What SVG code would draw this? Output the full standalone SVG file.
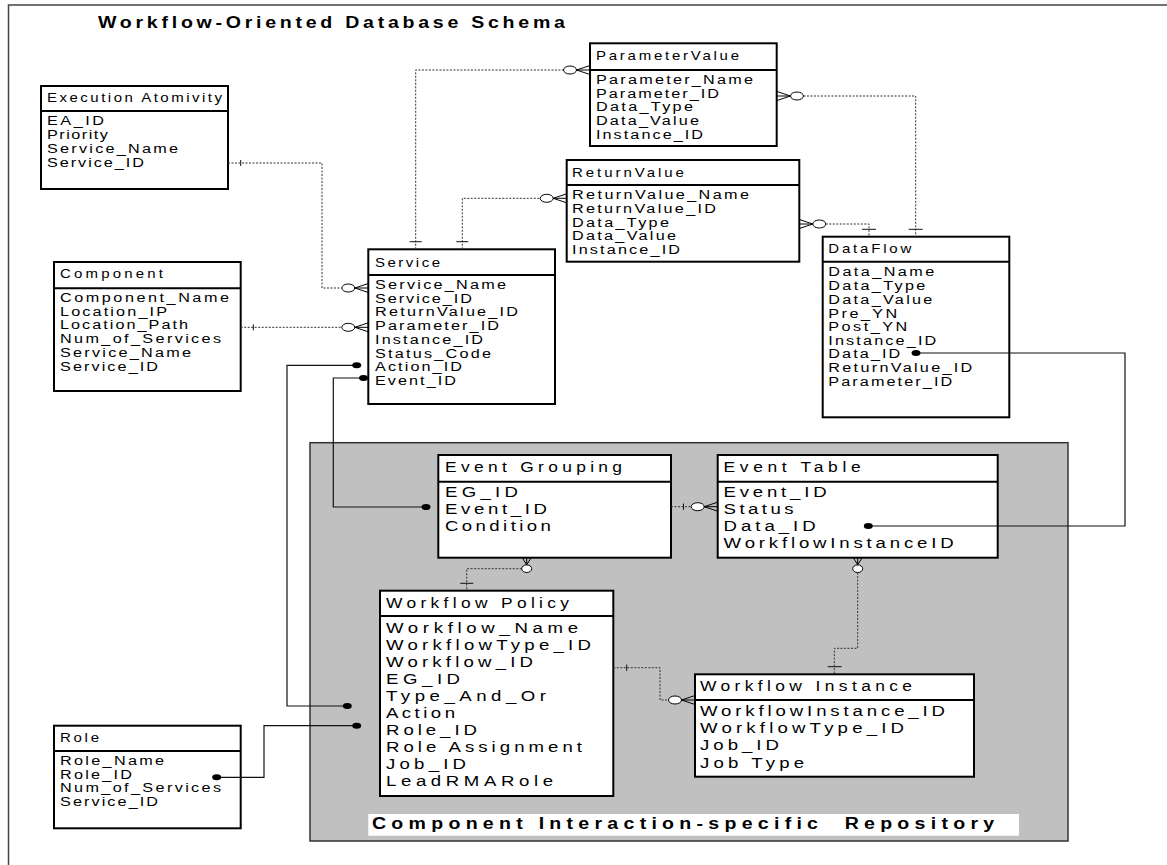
<svg xmlns="http://www.w3.org/2000/svg" xmlns:xlink="http://www.w3.org/1999/xlink" width="1167" height="865" viewBox="0 0 1167 865">
  <style>
    text { font-family: "Liberation Sans", Arial, Helvetica, sans-serif; fill: #000; }
    .title { font-size: 17px; font-weight: bold; }
    .hs { font-size: 12.5px; }
    .as { font-size: 13.5px; }
    .hl { font-size: 14.5px; }
    .al { font-size: 15.5px; }
    .box { fill: #fff; stroke: #000; stroke-width: 2; }
    .div { stroke: #000; stroke-width: 2; }
    .rel { fill: none; stroke: #333; stroke-width: 1; stroke-dasharray: 2 1.5; }
    .link { fill: none; stroke: #111; stroke-width: 1.2; }
    .tick { stroke: #111; stroke-width: 1; }
    .circ { fill: #fff; stroke: #000; stroke-width: 1; }
    .foot { fill: none; stroke: #000; stroke-width: 1; }
    .dot { fill: #000; }
  </style>
  <defs>
    <!-- zero-or-many end, entering an entity edge at the origin along +x -->
    <g id="zm">
      <ellipse class="circ" cx="-20" cy="0" rx="6.5" ry="4"/>
      <path class="foot" d="M-13.5,0 L0,-4.5 M-13.5,0 L0,0 M-13.5,0 L0,4.5"/>
    </g>
    <!-- compact zero-or-many end, hanging below an entity bottom edge -->
    <g id="zmUp">
      <ellipse class="circ" cx="0" cy="11" rx="5" ry="3.8"/>
      <path class="foot" d="M0,7 L-4.5,0 M0,7 L0,0 M0,7 L4.5,0"/>
    </g>
    <ellipse id="dot" class="dot" cx="0" cy="0" rx="4.5" ry="3"/>
  </defs>

  <rect width="1167" height="865" fill="#fff"/>
  <path d="M8.5,865 V5 H1167" fill="none" stroke="#444" stroke-width="1.5"/>
  <g transform="matrix(1.15,0,0,1,98,0)">
    <text class="title" x="0" y="28" textLength="406">Workflow-Oriented Database Schema</text>
  </g>

  <!-- repository area -->
  <g id="repository">
    <rect x="310" y="442.7" width="758" height="398.3" fill="#c0c0c0" stroke="#333" stroke-width="1.5"/>
    <rect x="368.3" y="814" width="650.7" height="21.7" fill="#fff"/>
    <g transform="matrix(1.15,0,0,1,372,0)">
      <text class="title" x="0" y="829.5" textLength="541" xml:space="preserve">Component Interaction-specific  Repository</text>
    </g>
  </g>

  <g id="execution-atomivity">
    <rect class="box" x="41" y="86" width="187" height="103"/>
    <line class="div" x1="41" y1="111" x2="228" y2="111"/>
    <g transform="matrix(1.2,0,0,1,47,0)">
      <text class="hs" x="0" y="102" textLength="145.8">Execution Atomivity</text>
      <text class="as" x="0" y="125.5" textLength="47.5">EA_ID</text>
      <text class="as" x="0" y="139" textLength="50.8">Priority</text>
      <text class="as" x="0" y="153" textLength="109.2">Service_Name</text>
      <text class="as" x="0" y="167" textLength="80.8">Service_ID</text>
    </g>
  </g>

  <g id="parameter-value">
    <rect class="box" x="590" y="43.3" width="186.7" height="102.7"/>
    <line class="div" x1="590" y1="70" x2="776.7" y2="70"/>
    <g transform="matrix(1.2,0,0,1,596,0)">
      <text class="hs" x="0" y="60.5" textLength="119.2">ParameterValue</text>
      <text class="as" x="0" y="84" textLength="130.8">Parameter_Name</text>
      <text class="as" x="0" y="98" textLength="102.5">Parameter_ID</text>
      <text class="as" x="0" y="111.5" textLength="80.8">Data_Type</text>
      <text class="as" x="0" y="125" textLength="85.8">Data_Value</text>
      <text class="as" x="0" y="139" textLength="89.2">Instance_ID</text>
    </g>
  </g>

  <g id="return-value">
    <rect class="box" x="566.7" y="160" width="232.6" height="101.7"/>
    <line class="div" x1="566.7" y1="185" x2="799.3" y2="185"/>
    <g transform="matrix(1.2,0,0,1,572,0)">
      <text class="hs" x="0" y="177" textLength="93.3">ReturnValue</text>
      <text class="as" x="0" y="199.5" textLength="147.5">ReturnValue_Name</text>
      <text class="as" x="0" y="213.5" textLength="120">ReturnValue_ID</text>
      <text class="as" x="0" y="227" textLength="80.8">Data_Type</text>
      <text class="as" x="0" y="240.5" textLength="86.7">Data_Value</text>
      <text class="as" x="0" y="254.5" textLength="90">Instance_ID</text>
    </g>
  </g>

  <g id="data-flow">
    <rect class="box" x="822.7" y="236.7" width="186.6" height="180.6"/>
    <line class="div" x1="822.7" y1="261.7" x2="1009.3" y2="261.7"/>
    <g transform="matrix(1.2,0,0,1,828.3,0)">
      <text class="hs" x="0" y="253.5" textLength="69.2">DataFlow</text>
      <text class="as" x="0" y="276" textLength="88.3">Data_Name</text>
      <text class="as" x="0" y="290" textLength="80.8">Data_Type</text>
      <text class="as" x="0" y="304" textLength="86.7">Data_Value</text>
      <text class="as" x="0" y="318" textLength="57.5">Pre_YN</text>
      <text class="as" x="0" y="331.5" textLength="65.8">Post_YN</text>
      <text class="as" x="0" y="345" textLength="90">Instance_ID</text>
      <text class="as" x="0" y="358" textLength="60">Data_ID</text>
      <text class="as" x="0" y="372.5" textLength="120">ReturnValue_ID</text>
      <text class="as" x="0" y="386" textLength="103.3">Parameter_ID</text>
    </g>
  </g>

  <g id="service">
    <rect class="box" x="368.3" y="249.3" width="186.7" height="154.7"/>
    <line class="div" x1="368.3" y1="275" x2="555" y2="275"/>
    <g transform="matrix(1.2,0,0,1,375,0)">
      <text class="hs" x="0" y="267" textLength="54.2">Service</text>
      <text class="as" x="0" y="289.5" textLength="109.2">Service_Name</text>
      <text class="as" x="0" y="303" textLength="80.8">Service_ID</text>
      <text class="as" x="0" y="316.5" textLength="119.2">ReturnValue_ID</text>
      <text class="as" x="0" y="330.5" textLength="103.3">Parameter_ID</text>
      <text class="as" x="0" y="344.5" textLength="90">Instance_ID</text>
      <text class="as" x="0" y="358" textLength="96.7">Status_Code</text>
      <text class="as" x="0" y="371.5" textLength="72.5">Action_ID</text>
      <text class="as" x="0" y="385.5" textLength="67.5">Event_ID</text>
    </g>
  </g>

  <g id="component">
    <rect class="box" x="54" y="262" width="186.7" height="129"/>
    <line class="div" x1="54" y1="288.3" x2="240.7" y2="288.3"/>
    <g transform="matrix(1.2,0,0,1,60,0)">
      <text class="hs" x="0" y="278.5" textLength="85.8">Component</text>
      <text class="as" x="0" y="302.5" textLength="140.8">Component_Name</text>
      <text class="as" x="0" y="316" textLength="89.2">Location_IP</text>
      <text class="as" x="0" y="329.5" textLength="106.7">Location_Path</text>
      <text class="as" x="0" y="343.5" textLength="134.2">Num_of_Services</text>
      <text class="as" x="0" y="357.5" textLength="109.2">Service_Name</text>
      <text class="as" x="0" y="371" textLength="81.7">Service_ID</text>
    </g>
  </g>

  <g id="role">
    <rect class="box" x="54" y="725.7" width="186.7" height="102.6"/>
    <line class="div" x1="54" y1="751" x2="240.7" y2="751"/>
    <g transform="matrix(1.2,0,0,1,60,0)">
      <text class="hs" x="0" y="742.5" textLength="32.5">Role</text>
      <text class="as" x="0" y="765" textLength="86.7">Role_Name</text>
      <text class="as" x="0" y="779" textLength="60">Role_ID</text>
      <text class="as" x="0" y="792.5" textLength="134.2">Num_of_Services</text>
      <text class="as" x="0" y="806.5" textLength="81.7">Service_ID</text>
    </g>
  </g>

  <g id="event-grouping">
    <rect class="box" x="438.3" y="455" width="232.7" height="102.7"/>
    <line class="div" x1="438.3" y1="481.7" x2="671" y2="481.7"/>
    <g transform="matrix(1.2,0,0,1,445,0)">
      <text class="hl" x="0" y="472" textLength="147.5">Event Grouping</text>
      <text class="al" x="0" y="497" textLength="60.8">EG_ID</text>
      <text class="al" x="0" y="514.5" textLength="85">Event_ID</text>
      <text class="al" x="0" y="531.5" textLength="88.3">Condition</text>
    </g>
  </g>

  <g id="event-table">
    <rect class="box" x="717.7" y="455" width="280" height="102.7"/>
    <line class="div" x1="717.7" y1="481.7" x2="997.7" y2="481.7"/>
    <g transform="matrix(1.2,0,0,1,723.6,0)">
      <text class="hl" x="0" y="472" textLength="114.2">Event Table</text>
      <text class="al" x="0" y="497" textLength="85.8">Event_ID</text>
      <text class="al" x="0" y="514.5" textLength="58.3">Status</text>
      <text class="al" x="0" y="531.5" textLength="76.7">Data_ID</text>
      <text class="al" x="0" y="548.5" textLength="191.7">WorkflowInstanceID</text>
    </g>
  </g>

  <g id="workflow-policy">
    <rect class="box" x="380" y="590.7" width="233.3" height="205.3"/>
    <line class="div" x1="380" y1="616" x2="613.3" y2="616"/>
    <g transform="matrix(1.2,0,0,1,386,0)">
      <text class="hl" x="0" y="608" textLength="152.5">Workflow Policy</text>
      <text class="al" x="0" y="633" textLength="160">Workflow_Name</text>
      <text class="al" x="0" y="650" textLength="170.8">WorkflowType_ID</text>
      <text class="al" x="0" y="667" textLength="122.5">Workflow_ID</text>
      <text class="al" x="0" y="684" textLength="61.7">EG_ID</text>
      <text class="al" x="0" y="701" textLength="133.3">Type_And_Or</text>
      <text class="al" x="0" y="718" textLength="57.5">Action</text>
      <text class="al" x="0" y="735" textLength="75.8">Role_ID</text>
      <text class="al" x="0" y="752" textLength="163.3">Role Assignment</text>
      <text class="al" x="0" y="769" textLength="66.7">Job_ID</text>
      <text class="al" x="0" y="786" textLength="139.2">LeadRMARole</text>
    </g>
  </g>

  <g id="workflow-instance">
    <rect class="box" x="695" y="674.3" width="279" height="102.4"/>
    <line class="div" x1="695" y1="700" x2="974" y2="700"/>
    <g transform="matrix(1.2,0,0,1,700,0)">
      <text class="hl" x="0" y="691.5" textLength="176.7">Workflow Instance</text>
      <text class="al" x="0" y="716" textLength="204.2">WorkflowInstance_ID</text>
      <text class="al" x="0" y="733" textLength="170">WorkflowType_ID</text>
      <text class="al" x="0" y="750.5" textLength="65.8">Job_ID</text>
      <text class="al" x="0" y="768" textLength="86.7">Job Type</text>
    </g>
  </g>

  <!-- connectors -->
  <g id="connectors">
    <!-- Execution Atomivity -> Service -->
    <path class="rel" d="M228,163 H322 V288 H341.5"/>
    <line class="tick" x1="240.7" y1="160" x2="240.7" y2="166"/>
    <use xlink:href="#zm" transform="translate(368.3,288)"/>

    <!-- Component -> Service -->
    <path class="rel" d="M240.7,327.3 H341.5"/>
    <line class="tick" x1="253.3" y1="324.3" x2="253.3" y2="330.3"/>
    <use xlink:href="#zm" transform="translate(368.3,327.3)"/>

    <!-- Service -> ParameterValue -->
    <path class="rel" d="M415.7,249.3 V70 H563.5"/>
    <line class="tick" x1="409.7" y1="241.7" x2="421.7" y2="241.7"/>
    <use xlink:href="#zm" transform="translate(590,70)"/>

    <!-- Service -> ReturnValue -->
    <path class="rel" d="M462.3,249.3 V198.3 H540.2"/>
    <line class="tick" x1="456.3" y1="241.7" x2="468.3" y2="241.7"/>
    <use xlink:href="#zm" transform="translate(566.7,198.3)"/>

    <!-- DataFlow -> ParameterValue -->
    <path class="rel" d="M803.5,96 H915.7 V236.7"/>
    <line class="tick" x1="908.7" y1="229.3" x2="922.7" y2="229.3"/>
    <use xlink:href="#zm" transform="translate(777,96) rotate(180)"/>

    <!-- DataFlow -> ReturnValue -->
    <path class="rel" d="M825.8,224 H869 V236.7"/>
    <line class="tick" x1="862" y1="229.3" x2="876" y2="229.3"/>
    <use xlink:href="#zm" transform="translate(799.3,224) rotate(180)"/>

    <!-- Event Grouping -> Event Table -->
    <path class="rel" d="M671,506.7 H691.2"/>
    <line class="tick" x1="683.5" y1="503.5" x2="683.5" y2="509.9"/>
    <use xlink:href="#zm" transform="translate(717.7,506.7)"/>

    <!-- Workflow Policy -> Event Grouping -->
    <path class="rel" d="M521.7,568.7 H466.7 V590.7"/>
    <line class="tick" x1="460.2" y1="583.3" x2="473.2" y2="583.3"/>
    <use xlink:href="#zmUp" transform="translate(526.7,557.7)"/>

    <!-- Workflow Instance -> Event Table -->
    <path class="rel" d="M857.7,572.5 V648.3 H834.3 V674.3"/>
    <line class="tick" x1="827.7" y1="666.7" x2="841.7" y2="666.7"/>
    <use xlink:href="#zmUp" transform="translate(857.7,557.7)"/>

    <!-- Workflow Policy -> Workflow Instance -->
    <path class="rel" d="M613.3,667.7 H660 V700 H668.5"/>
    <line class="tick" x1="626.7" y1="664.5" x2="626.7" y2="670.9"/>
    <use xlink:href="#zm" transform="translate(695,700)"/>

    <!-- solid key links -->
    <path class="link" d="M356.7,365.3 H287 V706 H347.3"/>
    <use xlink:href="#dot" x="356.7" y="365.3"/>
    <use xlink:href="#dot" x="347.3" y="706"/>

    <path class="link" d="M363.5,378 H333.3 V507 H426"/>
    <use xlink:href="#dot" x="363.5" y="378"/>
    <use xlink:href="#dot" x="426" y="507"/>

    <path class="link" d="M356.7,725.7 H264 V777.3 H216.7"/>
    <use xlink:href="#dot" x="356.7" y="725.7"/>
    <use xlink:href="#dot" x="216.7" y="777.3"/>

    <path class="link" d="M868.3,526 H1125 V353 H916"/>
    <use xlink:href="#dot" x="868.3" y="526"/>
    <use xlink:href="#dot" x="916" y="353"/>
  </g>
</svg>
